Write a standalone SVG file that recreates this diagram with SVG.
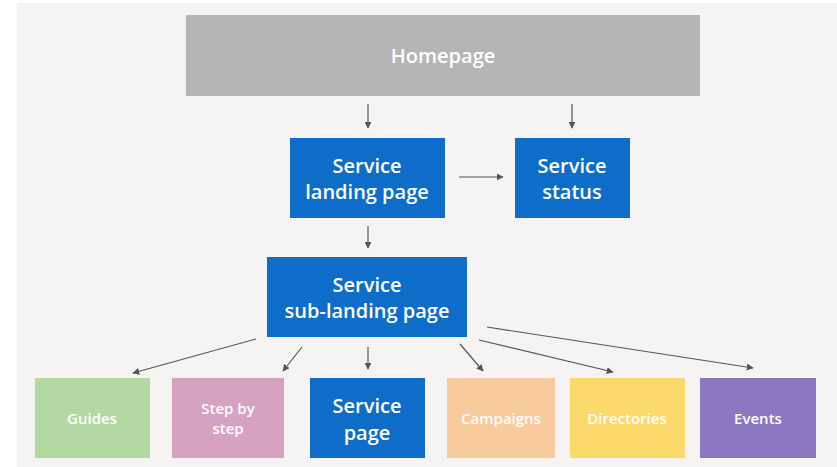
<svg xmlns="http://www.w3.org/2000/svg" width="837" height="467" viewBox="0 0 837 467">
<defs>
<marker id="ah" viewBox="0 0 10 10" refX="9" refY="5" markerWidth="7" markerHeight="7" markerUnits="userSpaceOnUse" orient="auto">
<path d="M0,0 L10,5 L0,10 z" fill="#555"/>
</marker>
<style>
.t{font-family:"Open Sans","Liberation Sans",sans-serif;font-weight:600;fill:#fff;text-anchor:middle}
.big{font-size:20px}
.sm{font-size:15px}
.blue{fill:#0e6dc8}
.c{stroke:#555;stroke-width:1.2;fill:none;marker-end:url(#ah)}
</style>
</defs>
<rect x="0" y="0" width="837" height="467" fill="#ffffff"/>
<rect x="17" y="3" width="820" height="464" fill="#f5f4f2"/>
<g id="homepage"><rect x="186" y="15" width="514" height="81" fill="#b5b5b5"/><text class="t big" x="443" y="63">Homepage</text></g>
<g id="landing"><rect class="blue" x="290" y="138" width="155" height="80"/><text class="t big" x="367" y="173">Service</text><text class="t big" x="367" y="199">landing page</text></g>
<g id="status"><rect class="blue" x="515" y="138" width="115" height="80"/><text class="t big" x="572" y="173">Service</text><text class="t big" x="572" y="199">status</text></g>
<g id="sublanding"><rect class="blue" x="267" y="257" width="200" height="80"/><text class="t big" x="367" y="292">Service</text><text class="t big" x="367" y="318">sub-landing page</text></g>
<g id="guides"><rect x="35" y="378" width="115" height="80" fill="#b3d8a2"/><text class="t sm" x="92" y="424">Guides</text></g>
<g id="stepbystep"><rect x="172" y="378" width="112" height="80" fill="#d5a3c1"/><text class="t sm" x="228" y="414">Step by</text><text class="t sm" x="228" y="434">step</text></g>
<g id="servicepage"><rect class="blue" x="310" y="378" width="115" height="80"/><text class="t big" x="367" y="413">Service</text><text class="t big" x="367" y="440">page</text></g>
<g id="campaigns"><rect x="447" y="378" width="108" height="80" fill="#f7cb9c"/><text class="t sm" x="501" y="424">Campaigns</text></g>
<g id="directories"><rect x="570" y="378" width="115" height="80" fill="#fcd96b"/><text class="t sm" x="627" y="424">Directories</text></g>
<g id="events"><rect x="700" y="378" width="116" height="80" fill="#8b78c0"/><text class="t sm" x="758" y="424">Events</text></g>
<g id="connectors">
<line class="c" x1="368" y1="104" x2="368" y2="128"/>
<line class="c" x1="572" y1="104" x2="572" y2="128"/>
<line class="c" x1="459" y1="177" x2="503" y2="177"/>
<line class="c" x1="368" y1="226" x2="368" y2="248"/>
<line class="c" x1="256" y1="339" x2="133" y2="373"/>
<line class="c" x1="302" y1="347" x2="283" y2="371"/>
<line class="c" x1="368" y1="347" x2="368" y2="369"/>
<line class="c" x1="460" y1="344" x2="483" y2="371"/>
<line class="c" x1="479" y1="340" x2="613" y2="372"/>
<line class="c" x1="487" y1="327" x2="753" y2="368"/>
</g>
</svg>
